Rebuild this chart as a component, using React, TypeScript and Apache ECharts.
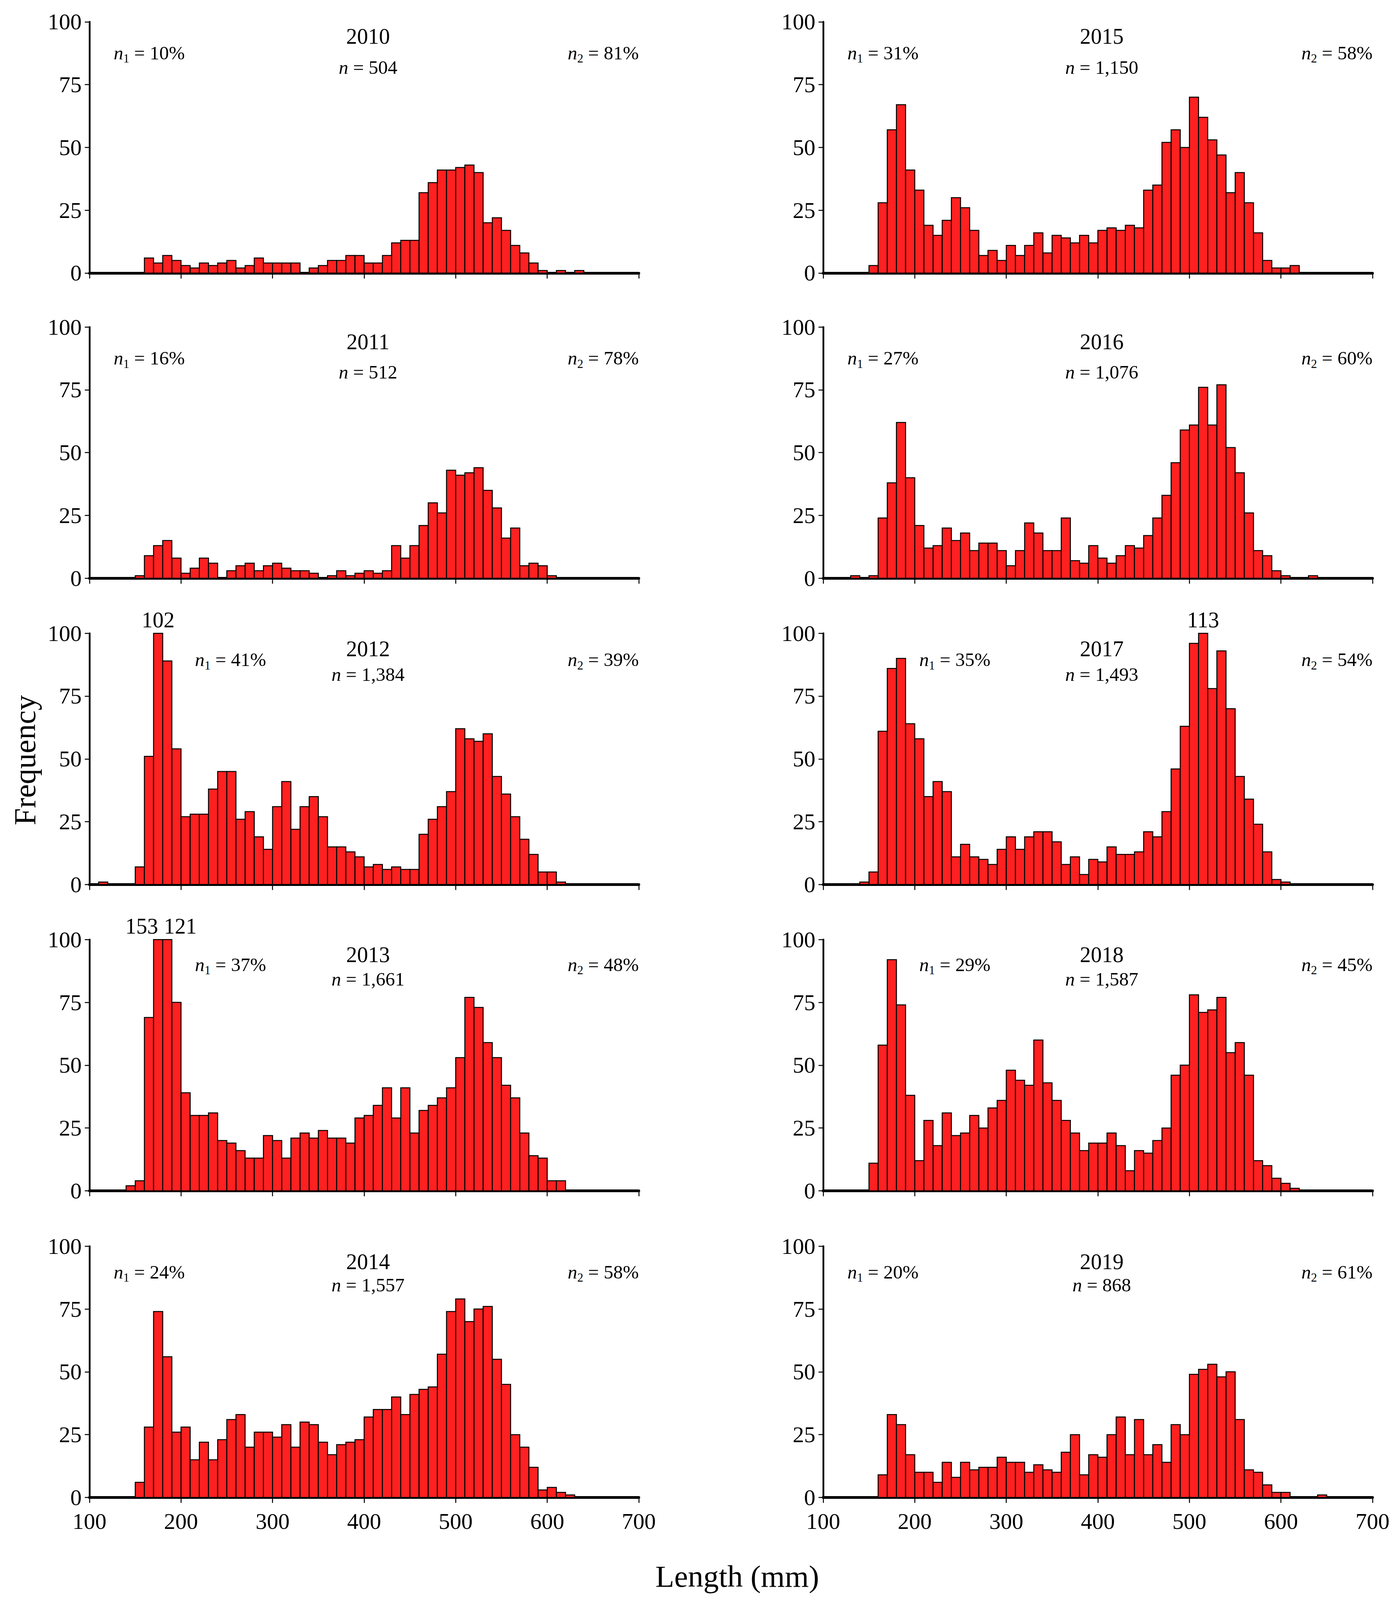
import React, { useEffect, useRef } from "react";
import * as echarts from "echarts";

// ---- data (bins of 10 mm, starting at 100 mm) ----
const BIN_WIDTH = 10;
const BIN_STARTS = Array.from({ length: 60 }, (_, i) => 100 + BIN_WIDTH * i);

const YEARS = ["2010", "2011", "2012", "2013", "2014", "2015", "2016", "2017", "2018", "2019"];
const N_TOTAL = ["504", "512", "1,384", "1,661", "1,557", "1,150", "1,076", "1,493", "1,587", "868"];
const N1_PCT = ["10%", "16%", "41%", "37%", "24%", "31%", "27%", "35%", "29%", "20%"];
const N2_PCT = ["81%", "78%", "39%", "48%", "58%", "58%", "60%", "54%", "45%", "61%"];

const F2010 = [
  0, 0, 0, 0, 0, 0, 6, 4, 7, 5,
  3, 2, 4, 3, 4, 5, 2, 3, 6, 4,
  4, 4, 4, 0, 2, 3, 5, 5, 7, 7,
  4, 4, 7, 12, 13, 13, 32, 36, 41, 41,
  42, 43, 40, 20, 22, 17, 11, 8, 4, 1,
  0, 1, 0, 1, 0, 0, 0, 0, 0, 0,
];
const F2011 = [
  0, 0, 0, 0, 0, 1, 9, 13, 15, 8,
  2, 4, 8, 6, 0, 3, 5, 6, 3, 5,
  6, 4, 3, 3, 2, 0, 1, 3, 1, 2,
  3, 2, 3, 13, 8, 13, 21, 30, 26, 43,
  41, 42, 44, 35, 28, 16, 20, 5, 6, 5,
  1, 0, 0, 0, 0, 0, 0, 0, 0, 0,
];
const F2012 = [
  0, 1, 0, 0, 0, 7, 51, 102, 89, 54,
  27, 28, 28, 38, 45, 45, 26, 29, 19, 14,
  31, 41, 22, 31, 35, 27, 15, 15, 13, 11,
  7, 8, 6, 7, 6, 6, 20, 26, 31, 37,
  62, 58, 57, 60, 43, 36, 27, 18, 12, 5,
  5, 1, 0, 0, 0, 0, 0, 0, 0, 0,
];
const F2013 = [
  0, 0, 0, 0, 2, 4, 69, 153, 121, 75,
  39, 30, 30, 31, 20, 19, 16, 13, 13, 22,
  20, 13, 21, 23, 21, 24, 21, 21, 19, 29,
  30, 34, 41, 29, 41, 23, 32, 34, 37, 41,
  53, 77, 73, 59, 53, 42, 37, 23, 14, 13,
  4, 4, 0, 0, 0, 0, 0, 0, 0, 0,
];
const F2014 = [
  0, 0, 0, 0, 0, 6, 28, 74, 56, 26,
  28, 15, 22, 15, 23, 31, 33, 20, 26, 26,
  24, 29, 20, 30, 29, 22, 17, 21, 22, 23,
  32, 35, 35, 40, 33, 41, 43, 44, 57, 74,
  79, 70, 75, 76, 55, 45, 25, 20, 12, 3,
  4, 2, 1, 0, 0, 0, 0, 0, 0, 0,
];
const F2015 = [
  0, 0, 0, 0, 0, 3, 28, 57, 67, 41,
  33, 19, 15, 21, 30, 26, 17, 7, 9, 5,
  11, 7, 11, 16, 8, 15, 14, 12, 15, 12,
  17, 18, 17, 19, 18, 33, 35, 52, 57, 50,
  70, 62, 53, 47, 32, 40, 28, 16, 5, 2,
  2, 3, 0, 0, 0, 0, 0, 0, 0, 0,
];
const F2016 = [
  0, 0, 0, 1, 0, 1, 24, 38, 62, 40,
  21, 12, 13, 20, 15, 18, 11, 14, 14, 11,
  5, 11, 22, 18, 11, 11, 24, 7, 6, 13,
  8, 6, 9, 13, 12, 17, 24, 33, 46, 59,
  61, 76, 61, 77, 52, 42, 26, 11, 9, 3,
  1, 0, 0, 1, 0, 0, 0, 0, 0, 0,
];
const F2017 = [
  0, 0, 0, 0, 1, 5, 61, 86, 90, 64,
  58, 35, 41, 37, 11, 16, 11, 10, 8, 14,
  19, 14, 19, 21, 21, 17, 8, 11, 4, 10,
  9, 15, 12, 12, 13, 21, 19, 29, 46, 63,
  96, 113, 78, 93, 70, 43, 34, 24, 13, 2,
  1, 0, 0, 0, 0, 0, 0, 0, 0, 0,
];
const F2018 = [
  0, 0, 0, 0, 0, 11, 58, 92, 74, 38,
  12, 28, 18, 31, 22, 23, 30, 25, 33, 36,
  48, 44, 42, 60, 43, 36, 28, 23, 16, 19,
  19, 23, 18, 8, 16, 15, 20, 25, 46, 50,
  78, 71, 72, 77, 55, 59, 46, 12, 10, 5,
  3, 1, 0, 0, 0, 0, 0, 0, 0, 0,
];
const F2019 = [
  0, 0, 0, 0, 0, 0, 9, 33, 29, 17,
  10, 10, 6, 14, 8, 14, 11, 12, 12, 16,
  14, 14, 10, 13, 11, 10, 18, 25, 9, 17,
  16, 25, 32, 17, 31, 17, 21, 14, 29, 25,
  49, 51, 53, 48, 50, 31, 11, 10, 5, 2,
  2, 0, 0, 0, 1, 0, 0, 0, 0, 0,
];
const FREQS = [F2010, F2011, F2012, F2013, F2014, F2015, F2016, F2017, F2018, F2019];

const X_TICKS = [100, 200, 300, 400, 500, 600, 700];
const Y_TICKS = [0, 25, 50, 75, 100];

// ---- layout & style ----
// The photographed area is 4096 px tall, so vertical positions (measured on the
// 4477-px-tall reference) are scaled by SY to fit.
const W = 3568;
const REF_H = 4477;
const H = 4096;
const SY = H / REF_H;
const FONT = "'Liberation Serif', 'Times New Roman', serif";
const COL_LEFT = [229, 2107];
const PLOT_W = 1406;
const ROW_TOP = [61, 915, 1772, 2629, 3487];
const PLOT_H = 703;
const TITLE_DY = [41, 41, 43, 42, 43];
const N12_DY = [87, 87, 74, 70, 72];
const N_DY = [127, 126, 115, 111, 108];
const N1_DX = [62, 62, 270, 270, 62, 62, 62, 246, 246, 62];
const BAR_FILL = "#ff2020";
const Y_MAX = 100;
const FS_TICK = 58;
const FS_TITLE = 56;
const FS_ANN = 49;
const FS_AXIS_NAME = 79;

function App() {
  const ref = useRef<HTMLDivElement>(null);

  useEffect(() => {
    document.body.style.margin = "0";
    if (!ref.current) return;
    const chart = echarts.init(ref.current, undefined, { renderer: "svg" });

    const grids: any[] = [];
    const xAxes: any[] = [];
    const yAxes: any[] = [];
    const series: any[] = [];
    const graphics: any[] = [];

    const rich = {
      i: { fontStyle: "italic", fontSize: FS_ANN, fontFamily: FONT, lineHeight: 60, fill: "#000", color: "#000" },
      s: { fontSize: 31, fontFamily: FONT, lineHeight: 31, verticalAlign: "bottom", fill: "#000", color: "#000" },
      t: { fontSize: FS_ANN, fontFamily: FONT, lineHeight: 60, fill: "#000", color: "#000" },
    };

    FREQS.forEach((vals, k) => {
      const col = Math.floor(k / 5);
      const row = k % 5;
      const gx = COL_LEFT[col];
      const gy = ROW_TOP[row] * SY;
      grids.push({ left: gx, top: gy, width: PLOT_W, height: PLOT_H * SY, containLabel: false });
      xAxes.push({
        gridIndex: k,
        type: "value",
        min: X_TICKS[0],
        max: X_TICKS[X_TICKS.length - 1],
        interval: 100,
        axisLine: { show: true, onZero: false, lineStyle: { color: "#000", width: 7 } },
        axisTick: { show: true, length: 14, lineStyle: { color: "#000", width: 2.5 } },
        axisLabel: {
          show: row === 4,
          fontSize: FS_TICK,
          fontFamily: FONT,
          color: "#000",
          margin: 32,
        },
        splitLine: { show: false },
      });
      yAxes.push({
        gridIndex: k,
        type: "value",
        min: Y_TICKS[0],
        max: Y_TICKS[Y_TICKS.length - 1],
        interval: 25,
        axisLine: { show: true, lineStyle: { color: "#000", width: 4.5 } },
        axisTick: { show: true, length: 12, lineStyle: { color: "#000", width: 2.5 } },
        axisLabel: { fontSize: FS_TICK, fontFamily: FONT, color: "#000", margin: 20 },
        splitLine: { show: false },
      });
      series.push({
        type: "custom",
        xAxisIndex: k,
        yAxisIndex: k,
        data: vals.map((v, i) => [BIN_STARTS[i], v]),
        renderItem: (params: any, api: any) => {
          const start = api.value(0);
          const count = api.value(1);
          if (!(count > 0)) return null;
          const shown = Math.min(count, Y_MAX);
          const tl = api.coord([start, shown]);
          const br = api.coord([start + BIN_WIDTH, 0]);
          const children: any[] = [
            {
              type: "rect",
              shape: { x: tl[0], y: tl[1], width: br[0] - tl[0], height: br[1] - tl[1] },
              style: { fill: BAR_FILL, stroke: "#000", lineWidth: 2.5 },
            },
          ];
          if (count > Y_MAX) {
            const idx = params.dataIndex;
            const nextCapped = (vals[idx + 1] || 0) > Y_MAX;
            const prevCapped = (vals[idx - 1] || 0) > Y_MAX;
            let tx = (tl[0] + br[0]) / 2;
            let align = "center";
            if (nextCapped) {
              align = "right";
            } else if (prevCapped) {
              tx = tl[0] + 3;
              align = "left";
            }
            children.push({
              type: "text",
              style: {
                text: String(count),
                x: tx,
                y: tl[1] - 6,
                fill: "#000",
                fontSize: FS_TITLE,
                fontFamily: FONT,
                align,
                verticalAlign: "bottom",
                textAlign: align,
                textVerticalAlign: "bottom",
              },
            });
          }
          return { type: "group", children };
        },
      });

      const cx = gx + PLOT_W / 2 + 10;
      graphics.push({
        type: "text",
        x: cx,
        y: gy + TITLE_DY[row] * SY,
        style: {
          text: YEARS[k],
          fontSize: FS_TITLE,
          fontFamily: FONT,
          fill: "#000",
          align: "center",
          verticalAlign: "middle",
          textAlign: "center",
          textVerticalAlign: "middle",
        },
      });
      graphics.push({
        type: "text",
        x: cx,
        y: gy + N_DY[row] * SY,
        style: {
          text: `{i|n}{t| = ${N_TOTAL[k]}}`,
          rich,
          fill: "#000",
          align: "center",
          verticalAlign: "middle",
          textAlign: "center",
          textVerticalAlign: "middle",
        },
      });
      graphics.push({
        type: "text",
        x: gx + N1_DX[k],
        y: gy + N12_DY[row] * SY,
        style: {
          text: `{i|n}{s|1}{t| = ${N1_PCT[k]}}`,
          rich,
          fill: "#000",
          align: "left",
          verticalAlign: "middle",
          textAlign: "left",
          textVerticalAlign: "middle",
        },
      });
      graphics.push({
        type: "text",
        x: gx + PLOT_W,
        y: gy + N12_DY[row] * SY,
        style: {
          text: `{i|n}{s|2}{t| = ${N2_PCT[k]}}`,
          rich,
          fill: "#000",
          align: "right",
          verticalAlign: "middle",
          textAlign: "right",
          textVerticalAlign: "middle",
        },
      });
    });

    graphics.push({
      type: "text",
      x: 63,
      y: 2127 * SY,
      rotation: Math.PI / 2,
      style: {
        text: "Frequency",
        fontSize: FS_AXIS_NAME,
        fontFamily: FONT,
        fill: "#000",
        align: "center",
        verticalAlign: "middle",
        textAlign: "center",
        textVerticalAlign: "middle",
      },
    });
    graphics.push({
      type: "text",
      x: 1887,
      y: 4411 * SY,
      style: {
        text: "Length (mm)",
        fontSize: FS_AXIS_NAME,
        fontFamily: FONT,
        fill: "#000",
        align: "center",
        verticalAlign: "middle",
        textAlign: "center",
        textVerticalAlign: "middle",
      },
    });

    chart.setOption({
      animation: false,
      backgroundColor: "#fff",
      grid: grids,
      xAxis: xAxes,
      yAxis: yAxes,
      series,
      graphic: { elements: graphics },
    });

    return () => chart.dispose();
  }, []);

  return <div ref={ref} style={{ width: W, height: H }} />;
}

export default App;
